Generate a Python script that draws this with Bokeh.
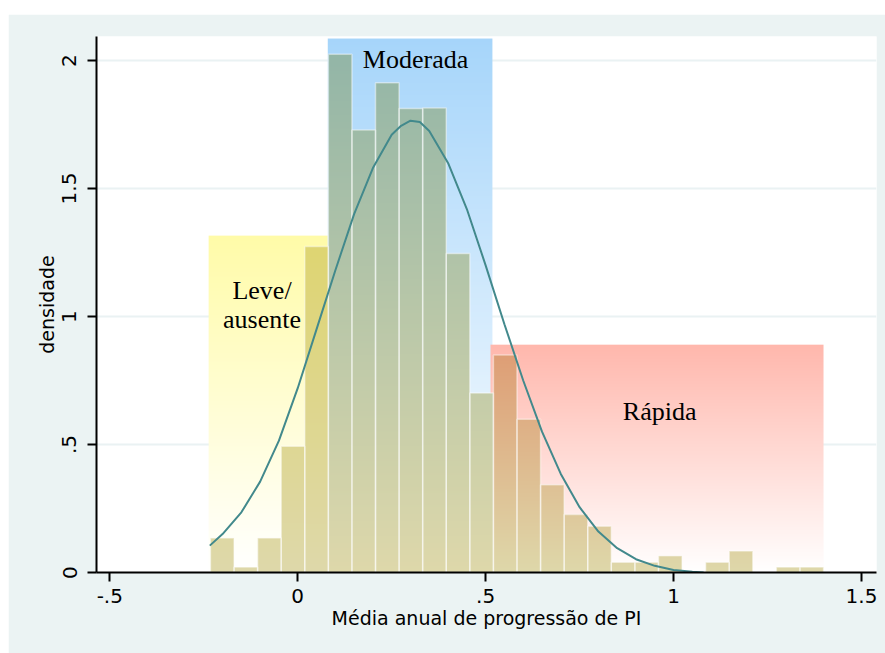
import numpy as np
from bokeh.plotting import figure
from bokeh.models import Range1d, FixedTicker
from bokeh.embed import file_html
from bokeh.resources import INLINE
from bokeh.core.properties import value

# ---------------- data ----------------
bin_start = -0.2322
bin_width = 0.06274
densities = [0.135, 0.021, 0.135, 0.493, 1.274, 2.025, 1.729, 1.913, 1.8125,
             1.815, 1.246, 0.701, 0.850, 0.599, 0.343, 0.227, 0.181, 0.040,
             0.040, 0.065, 0.0, 0.040, 0.084, 0.0, 0.021, 0.021]

curve_x = [-0.234, -0.2, -0.15, -0.1, -0.05, 0.0, 0.05, 0.1, 0.15, 0.2, 0.25,
           0.275, 0.3, 0.325, 0.35, 0.4, 0.45, 0.5, 0.55, 0.6, 0.65, 0.7,
           0.75, 0.8, 0.85, 0.9, 0.95, 1.0, 1.05, 1.08]
curve_y = [0.105, 0.150, 0.235, 0.355, 0.515, 0.72, 0.95, 1.18, 1.40, 1.58,
           1.71, 1.745, 1.765, 1.76, 1.725, 1.60, 1.42, 1.20, 0.97, 0.75, 0.55,
           0.385, 0.255, 0.16, 0.095, 0.052, 0.026, 0.010, 0.003, 0.0]

x_ticks = [-0.5, 0, 0.5, 1, 1.5]
x_tick_labels = ["-.5", "0", ".5", "1", "1.5"]
y_ticks = [0, 0.5, 1, 1.5, 2]
y_tick_labels = ["0", ".5", "1", "1.5", "2"]

band_names = ["Leve/\nausente", "Moderada", "Rápida"]
band_left = [-0.237, 0.080, 0.513]
band_right = [0.080, 0.518, 1.399]
band_top = [1.316, 2.086, 0.890]

# ---------------- styles ----------------
band_colors = [(255, 251, 168), (166, 213, 250), (255, 183, 172)]
bar_rgb = (222, 216, 170)
label_pos = [(-0.095, 1.100, 0.989), (0.3135, 2.006, None), (0.963, 0.630, None)]


def grad(top_rgb, frac):
    frac = np.clip(frac, 0, 1)[:, None]
    top = np.array(top_rgb, dtype=float)[None, :]
    return 255.0 * (1 - frac) + top * frac


def to_img(rgb):
    n = rgb.shape[0]
    a = np.zeros((n, 1, 4), dtype=np.uint8)
    a[:, 0, :3] = np.clip(np.round(rgb), 0, 255).astype(np.uint8)
    a[:, 0, 3] = 255
    return a.view(np.uint32).reshape(n, 1)


p = figure(width=877, height=639, output_backend="svg", toolbar_location=None,
           x_range=Range1d(-0.5354, 1.540), y_range=Range1d(0, 2.094),
           min_border_left=88, min_border_right=9, min_border_top=22,
           min_border_bottom=81)
p.margin = (14, 0, 0, 8)
p.background_fill_color = "white"
p.border_fill_color = "#EBF3F3"
p.outline_line_color = None

# gradient bands
imgs, xs, ys, dws, dhs = [], [], [], [], []
ny = 300
for b in range(3):
    frac = (np.arange(ny) + 0.5) / ny
    imgs.append(to_img(grad(band_colors[b], frac)))
    xs.append(band_left[b]); ys.append(0)
    dws.append(band_right[b] - band_left[b]); dhs.append(band_top[b])
p.image_rgba(image=imgs, x=xs, y=ys, dw=dws, dh=dhs)

# bars (multiplied over the band gradient)
lefts = [bin_start + i * bin_width for i in range(len(densities))]
rights = [l + bin_width for l in lefts]
bimgs, bxs, bdws, bdhs = [], [], [], []
for l, r, h in zip(lefts, rights, densities):
    if h <= 0:
        continue
    c = 0.5 * (l + r)
    b = 0 if c < band_right[0] else (1 if c < band_left[2] else 2)
    n = max(4, int(300 * h / band_top[b]))
    yy = (np.arange(n) + 0.5) / n * h
    g = grad(band_colors[b], yy / band_top[b])
    rgb = g * np.array(bar_rgb, dtype=float)[None, :] / 255.0
    bimgs.append(to_img(rgb)); bxs.append(l); bdws.append(r - l); bdhs.append(h)
p.image_rgba(image=bimgs, x=bxs, y=[0] * len(bimgs), dw=bdws, dh=bdhs)
p.quad(left=lefts, right=rights, bottom=0, top=densities, fill_alpha=0,
       line_color="white", line_alpha=0.45, line_width=1.5)

# normal curve
p.line(curve_x, curve_y, line_color="#42898C", line_width=2)

# band labels
tx, ty, tt = [], [], []
for name, (lx, ly, ly2) in zip(band_names, label_pos):
    parts = name.split("\n")
    tx.append(lx); ty.append(ly); tt.append(parts[0])
    if len(parts) > 1:
        tx.append(lx); ty.append(ly2); tt.append(parts[1])
p.text(x=tx, y=ty, text=tt, text_font=value("Liberation Serif"),
       text_font_size="26px", text_align="center", text_baseline="alphabetic",
       text_color="black")

# axes
for ax, ticks, labels in ((p.xaxis[0], x_ticks, x_tick_labels),
                          (p.yaxis[0], y_ticks, y_tick_labels)):
    ax.ticker = FixedTicker(ticks=ticks)
    ax.major_label_overrides = {float(t): s for t, s in zip(ticks, labels)}
    ax.axis_line_width = 2
    ax.axis_line_color = "black"
    ax.major_tick_line_width = 2
    ax.major_tick_out = 9
    ax.major_tick_in = 0
    ax.minor_tick_line_color = None
    ax.major_label_text_font = "DejaVu Sans"
    ax.major_label_text_font_size = "20px"
    ax.major_label_text_color = "black"
    ax.axis_label_text_font = "DejaVu Sans"
    ax.axis_label_text_font_size = "19px"
    ax.axis_label_text_font_style = "normal"
    ax.axis_label_text_color = "black"

p.xaxis.axis_label = "Média anual de progressão de PI"
p.yaxis.axis_label = "densidade"
p.yaxis.major_label_orientation = "vertical"
p.xaxis.major_label_standoff = 7
p.yaxis.major_label_standoff = 11
p.xaxis.axis_label_standoff = 1
p.yaxis.axis_label_standoff = 2

p.xgrid.grid_line_color = None
p.ygrid.ticker = FixedTicker(ticks=[0.5, 1, 1.5, 2])
p.ygrid.grid_line_color = "#EAF2F3"
p.ygrid.grid_line_width = 2

open("out.html", "w").write(file_html(p, INLINE))
